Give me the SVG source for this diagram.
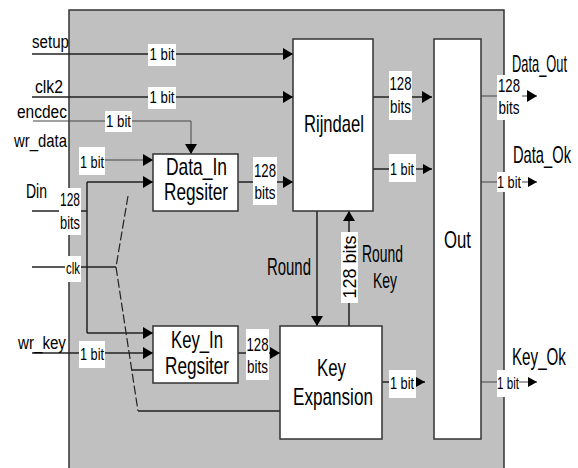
<svg xmlns="http://www.w3.org/2000/svg" width="578" height="468" viewBox="0 0 578 468">
<defs>
<marker id="arr" viewBox="0 0 10 12" refX="10" refY="6" markerWidth="10" markerHeight="12" markerUnits="userSpaceOnUse" orient="auto"><path d="M0,0 L10,6 L0,12 Z" fill="#000"/></marker>
<marker id="arrs" viewBox="0 0 9 10" refX="9" refY="5" markerWidth="9" markerHeight="10" markerUnits="userSpaceOnUse" orient="auto"><path d="M0,0 L9,5 L0,10 Z" fill="#000"/></marker>
</defs>
<style>
text{font-family:"Liberation Sans",Arial,sans-serif;fill:#000}
.io{font-size:19px}
.big{font-size:23px}
.sm{font-size:17px;text-anchor:middle}
.nm{font-size:19px;text-anchor:middle}
.box{fill:#fff;stroke:#333;stroke-width:1.5}
.lbl{fill:#fff;stroke:none}
.ln{fill:none;stroke:#222;stroke-width:1.5}
.th{fill:none;stroke:#444;stroke-width:1}
.dash{fill:none;stroke:#222;stroke-width:1.2;stroke-dasharray:9,3}
</style>
<rect x="0" y="0" width="578" height="468" fill="#fff"/>
<g id="frame">
<rect x="69" y="10" width="435" height="470" fill="#c0c0c0" stroke="#333" stroke-width="1.5"/>
</g>
<g id="connectors">
<path class="ln" d="M32,54 H293" marker-end="url(#arr)"/>
<path class="ln" d="M32,97 H293" marker-end="url(#arr)"/>
<path class="th" d="M33,121 H191 V154" marker-end="url(#arr)"/>
<path class="th" d="M79,160 H153" marker-end="url(#arr)"/>
<path class="ln" d="M32,211 H87"/>
<path class="ln" d="M87,182 V333"/>
<path class="ln" d="M87,182 H153" marker-end="url(#arr)"/>
<path class="ln" d="M87,333 H153" marker-end="url(#arr)"/>
<path class="ln" d="M32,267 H116"/>
<path class="dash" d="M128,196 L116,267 L138,411"/>
<path class="ln" d="M138,411 H280"/>
<path class="ln" d="M132,370 H153"/>
<path class="ln" d="M32,353 H153" marker-end="url(#arr)"/>
<path class="ln" d="M238,182 H293" marker-end="url(#arr)"/>
<path class="ln" d="M238,353 H280" marker-end="url(#arr)"/>
<path class="ln" d="M373,97 H432" marker-end="url(#arr)"/>
<path class="ln" d="M373,169 H432" marker-end="url(#arrs)"/>
<path class="ln" d="M317,211 V326" marker-end="url(#arr)"/>
<path class="ln" d="M349,326 V211" marker-end="url(#arr)"/>
<path class="ln" d="M382,382 H425" marker-end="url(#arrs)"/>
<path class="th" d="M481,96 H537" marker-end="url(#arr)"/>
<path class="th" d="M481,182 H537" marker-end="url(#arrs)"/>
<path class="th" d="M481,382 H537" marker-end="url(#arrs)"/>
<rect class="lbl" x="148" y="44" width="28" height="22"/><text class="sm" transform="matrix(0.78 0 0 1 162 60)">1 bit</text>
<rect class="lbl" x="148" y="87" width="28" height="22"/><text class="sm" transform="matrix(0.78 0 0 1 162 103)">1 bit</text>
<rect class="lbl" x="105" y="111" width="27" height="21"/><text class="sm" transform="matrix(0.78 0 0 1 118.5 127)">1 bit</text>
<rect class="lbl" x="79" y="147" width="26" height="28"/><text class="sm" transform="matrix(0.75 0 0 1 92 168)">1 bit</text>
<rect class="lbl" x="59" y="188" width="22" height="47"/><text class="nm" transform="matrix(0.63 0 0 1 70 206)">128</text><text class="nm" transform="matrix(0.676 0 0 1 70 229)">bits</text>
<rect class="lbl" x="65" y="256" width="16" height="26"/><text class="sm" transform="matrix(0.67 0 0 1 73 274)">clk</text>
<rect class="lbl" x="79" y="341" width="26" height="27"/><text class="sm" transform="matrix(0.75 0 0 1 92 360)">1 bit</text>
<rect class="lbl" x="253" y="157" width="24" height="48"/><text class="nm" transform="matrix(0.694 0 0 1 265 177)">128</text><text class="nm" transform="matrix(0.71 0 0 1 265 199)">bits</text>
<rect class="lbl" x="389" y="71" width="23" height="49"/><text class="nm" transform="matrix(0.694 0 0 1 400.5 90)">128</text><text class="nm" transform="matrix(0.71 0 0 1 400.5 113)">bits</text>
<rect class="lbl" x="389" y="154" width="27" height="28"/><text class="sm" transform="matrix(0.75 0 0 1 402 175)">1 bit</text>
<rect class="lbl" x="497" y="75" width="25" height="45"/><text class="nm" transform="matrix(0.694 0 0 1 509 92)">128</text><text class="nm" transform="matrix(0.71 0 0 1 509 114)">bits</text>
<rect class="lbl" x="497" y="172" width="25" height="20"/><text class="sm" transform="matrix(0.75 0 0 1 509 188)">1 bit</text>
<rect class="lbl" x="389" y="370" width="27" height="28"/><text class="sm" transform="matrix(0.75 0 0 1 402 389)">1 bit</text>
<rect class="lbl" x="497" y="370" width="22" height="27"/><text class="sm" transform="matrix(0.685 0 0 1 508 389)">1 bit</text>
<rect class="lbl" x="246" y="329" width="23" height="51"/><text class="nm" transform="matrix(0.694 0 0 1 257.5 351)">128</text><text class="nm" transform="matrix(0.71 0 0 1 257.5 373)">bits</text>
<rect class="lbl" x="341" y="232" width="17" height="71"/><text class="sm" style="font-size:18px" transform="translate(355.5 267) rotate(-90)">128 bits</text>
<text class="big" transform="matrix(0.649 0 0 1 267 275)">Round</text>
<text class="big" transform="matrix(0.605 0 0 1 362 262)">Round</text>
<text class="big" transform="matrix(0.606 0 0 1 373 288)">Key</text>
</g>
<g id="inputs">
<text class="io" transform="matrix(0.796 0 0 1 32 48)">setup</text>
<text class="io" transform="matrix(0.83 0 0 1 35 93)">clk2</text>
<text class="io" transform="matrix(0.816 0 0 1 17 118)">encdec</text>
<text class="io" transform="matrix(0.784 0 0 1 14 147)">wr_data</text>
<text class="io" style="font-size:21px" transform="matrix(0.667 0 0 1 26 198)">Din</text>
<text class="io" transform="matrix(0.797 0 0 1 18 349)">wr_key</text>
</g>
<g id="outputs">
<text class="big" transform="matrix(0.559 0 0 1 512 72)">Data_Out</text>
<text class="big" transform="matrix(0.639 0 0 1 513 163)">Data_Ok</text>
<text class="big" transform="matrix(0.66 0 0 1 512 365)">Key_Ok</text>
</g>
<g id="data_in">
<rect class="box" x="153" y="154" width="85" height="57"/>
<text class="big" transform="matrix(0.758 0 0 1 166 175)">Data_In</text>
<text class="big" transform="matrix(0.748 0 0 1 164 200)">Regsiter</text>
</g>
<g id="key_in">
<rect class="box" x="153" y="326" width="85" height="57"/>
<text class="big" transform="matrix(0.726 0 0 1 171 348)">Key_In</text>
<text class="big" transform="matrix(0.748 0 0 1 165 374)">Regsiter</text>
</g>
<g id="rijndael">
<rect class="box" x="293" y="39" width="80" height="172"/>
<text class="big" transform="matrix(0.722 0 0 1 304 132)">Rijndael</text>
</g>
<g id="key_expansion">
<rect class="box" x="280" y="326" width="102" height="113"/>
<text class="big" transform="matrix(0.732 0 0 1 317 376)">Key</text>
<text class="big" transform="matrix(0.745 0 0 1 293 405)">Expansion</text>
</g>
<g id="out">
<rect class="box" x="434" y="39" width="47" height="400"/>
<text class="big" transform="matrix(0.728 0 0 1 444 248)">Out</text>
</g>
</svg>
